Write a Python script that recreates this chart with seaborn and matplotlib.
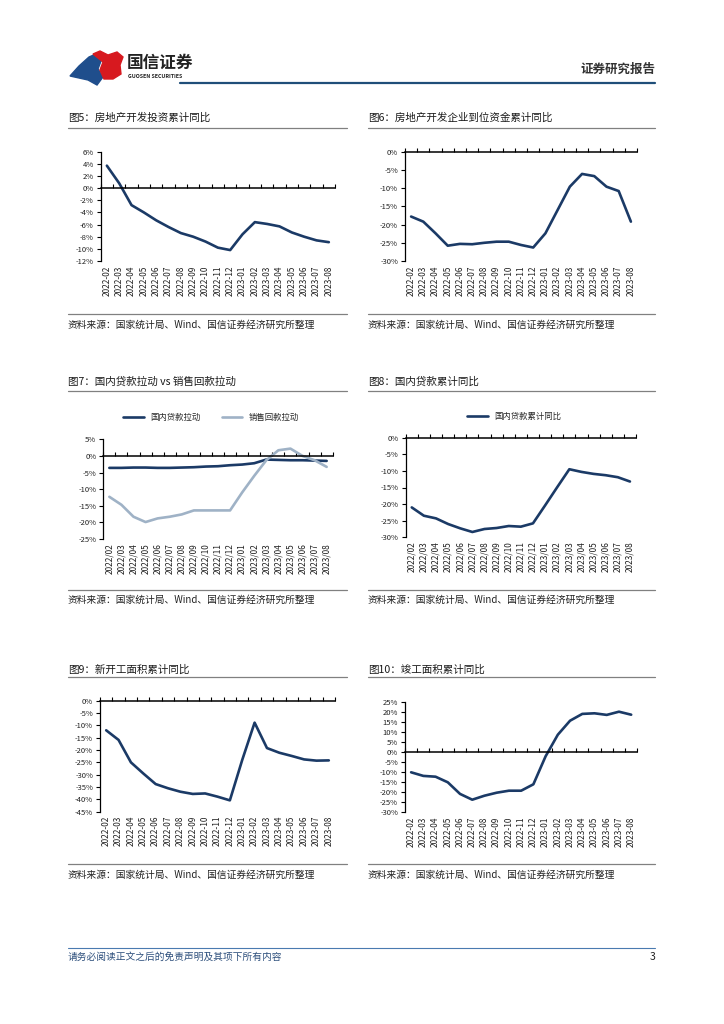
import matplotlib
matplotlib.use('Agg')
import matplotlib.pyplot as plt
import numpy as np
import pandas as pd
import seaborn as sns
from matplotlib.lines import Line2D
from matplotlib.patches import Polygon
from matplotlib.ticker import FuncFormatter

# ---- data ----
months = ['2022-02', '2022-03', '2022-04', '2022-05', '2022-06', '2022-07',
          '2022-08', '2022-09', '2022-10', '2022-11', '2022-12', '2023-01',
          '2023-02', '2023-03', '2023-04', '2023-05', '2023-06', '2023-07',
          '2023-08']
months_slash = [m.replace('-', '/') for m in months]

invest_yoy = [3.7, 0.8, -2.8, -4.0, -5.3, -6.4, -7.4, -8.0, -8.8, -9.8,
              -10.2, -7.6, -5.6, -5.9, -6.3, -7.3, -8.0, -8.6, -8.9]
funds_yoy = [-17.8, -19.2, -22.4, -25.8, -25.3, -25.4, -25.0, -24.7, -24.7,
             -25.6, -26.3, -22.4, -16.0, -9.6, -6.1, -6.7, -9.6, -10.8, -19.2]
loan_pull = [-3.6, -3.6, -3.5, -3.5, -3.6, -3.6, -3.5, -3.4, -3.2, -3.1,
             -2.8, -2.6, -2.2, -1.1, -1.2, -1.3, -1.3, -1.4, -1.5]
sales_pull = [-12.3, -14.7, -18.3, -19.9, -18.8, -18.3, -17.6, -16.4, -16.4,
              -16.4, -16.4, -11.0, -6.0, -1.3, 1.7, 2.2, 0.0, -1.3, -3.3]
loan_yoy = [-21.0, -23.5, -24.3, -26.0, -27.3, -28.4, -27.5, -27.2, -26.6,
            -26.8, -25.8, -20.4, -14.9, -9.5, -10.3, -10.9, -11.3, -11.9, -13.2]
newstart_yoy = [-12.0, -15.9, -25.0, -29.5, -33.8, -35.5, -36.9, -37.8, -37.6,
                -38.9, -40.4, -24.0, -8.9, -19.2, -21.1, -22.4, -23.8, -24.3,
                -24.2]
complete_yoy = [-10.0, -11.8, -12.2, -15.0, -20.8, -23.7, -21.7, -20.2, -19.2,
                -19.2, -16.0, -2.0, 8.8, 15.8, 19.2, 19.5, 18.7, 20.3, 18.8]

source = '资料来源：国家统计局、Wind、国信证券经济研究所整理'

NAVY = '#1b3a66'
LIGHT = '#9fb2c6'

sns.set_theme(style='white')
plt.rcParams['font.family'] = ['Noto Sans CJK SC', 'DejaVu Sans']
plt.rcParams['axes.unicode_minus'] = False

W, H = 724, 1024
fig = plt.figure(figsize=(W / 100, H / 100), dpi=100)
fig.patch.set_facecolor('white')


def fx(x):
    return x / W


def fy(y):
    return 1 - y / H


def hline(x0, x1, y, color, lw):
    fig.add_artist(Line2D([fx(x0), fx(x1)], [fy(y), fy(y)], color=color,
                          lw=lw, transform=fig.transFigure))


def text(x, y, s, **kw):
    fig.text(fx(x), fy(y), s, va='center', **kw)


def panel(x0, y0, x1, y1, labels, df, colors, ylim, step):
    ax = fig.add_axes([fx(x0), fy(y1), (x1 - x0) / W, (y1 - y0) / H])
    ax.patch.set_alpha(0)
    sns.lineplot(data=df, x='pos', y='value', hue='series', palette=colors,
                 lw=1.9, ax=ax)
    n = len(labels)
    ax.set_xlim(-0.5, n - 0.5)
    ax.set_ylim(*ylim)
    ax.set_xlabel('')
    ax.set_ylabel('')
    for s in ['top', 'right']:
        ax.spines[s].set_visible(False)
    ax.spines['bottom'].set_position(('data', 0))
    ax.spines['bottom'].set_color('black')
    ax.spines['bottom'].set_linewidth(1.1)
    ax.spines['left'].set_color('black')
    ax.spines['left'].set_linewidth(0.9)
    # category boundaries as small ticks on the zero line
    ax.set_xticks(np.arange(-0.5, n, 1))
    ax.tick_params(axis='x', bottom=True, direction='in', length=3,
                   width=0.8, color='black', labelbottom=False)
    ax.set_yticks(np.arange(ylim[0], ylim[1] + step / 2, step))
    ax.yaxis.set_major_formatter(FuncFormatter(lambda v, p: f'{v:.0f}%'))
    ax.tick_params(axis='y', left=True, direction='out', length=3, width=0.8,
                   color='black', labelsize=5.5, pad=2, labelcolor='#222222')
    sec = ax.secondary_xaxis(0)
    sec.set_xticks(range(n), labels=labels)
    sec.tick_params(bottom=False, length=0, labelsize=6, pad=3,
                    labelrotation=90, labelcolor='#222222')
    sec.spines['bottom'].set_visible(False)
    return ax


def one(vals, name):
    return pd.DataFrame({'pos': range(len(vals)), 'value': vals,
                         'series': name})


# ---- header ----
fig.add_artist(Polygon([(fx(70), fy(76)), (fx(79), fy(66)), (fx(89), fy(57)),
                        (fx(96), fy(54)), (fx(101), fy(61)), (fx(98), fy(69)),
                        (fx(103), fy(77)), (fx(97), fy(85)), (fx(88), fy(80))],
                       closed=True, color='#1f4e8c', transform=fig.transFigure))
fig.add_artist(Polygon([(fx(93), fy(54)), (fx(100), fy(51)), (fx(108), fy(55)),
                        (fx(117), fy(52)), (fx(123), fy(57)), (fx(120), fy(65)),
                        (fx(121), fy(74)), (fx(113), fy(79)), (fx(104), fy(79)),
                        (fx(100), fy(70)), (fx(103), fy(62))],
                       closed=True, color='#d7191f', transform=fig.transFigure))
text(127, 63, '国信证券', fontsize=12, fontweight='bold', color='#222222')
text(128, 77, 'GUOSEN SECURITIES', fontsize=3.8, fontweight='bold',
     color='#222222')
text(655, 69, '证券研究报告', fontsize=9, fontweight='bold', color='#333333',
     ha='right')
hline(180, 655, 83, '#1f4e79', 1.6)

# ---- panel titles / rules / sources ----
titles = [(68, 118, '图5：房地产开发投资累计同比'),
          (368, 118, '图6：房地产开发企业到位资金累计同比'),
          (68, 382, '图7：国内贷款拉动 vs 销售回款拉动'),
          (368, 382, '图8：国内贷款累计同比'),
          (68, 670, '图9：新开工面积累计同比'),
          (368, 670, '图10：竣工面积累计同比')]
for x, y, t in titles:
    text(x, y, t, fontsize=7.6, color='#1a1a1a')

for y_rule, y_src, y_title_rule in [(314, 325, 128), (590, 600, 391),
                                    (864, 875, 677)]:
    for x0, x1 in [(68, 347), (368, 655)]:
        hline(x0, x1, y_title_rule, '#808080', 0.9)
        hline(x0, x1, y_rule, '#808080', 0.9)
        text(x0, y_src, source, fontsize=7, color='#222222')

# ---- charts ----
panel(100.7, 151.7, 335, 261, months, one(invest_yoy, 'a'), [NAVY],
      (-12, 6), 2).get_legend().remove()
panel(405, 151.7, 637, 261, months, one(funds_yoy, 'a'), [NAVY],
      (-30, 0), 5).get_legend().remove()

pull = pd.concat([one(loan_pull, '国内贷款拉动'), one(sales_pull, '销售回款拉动')])
ax7 = panel(103.3, 439.3, 332.7, 539, months_slash, pull, [NAVY, LIGHT],
            (-25, 5), 5)
sns.move_legend(ax7, 'center', bbox_to_anchor=(0.47, 1.217), ncol=2,
                frameon=False, title=None, fontsize=6, handlelength=2.5,
                columnspacing=2.5)

ax8 = panel(405.7, 437.7, 636, 537.3, months_slash,
            one(loan_yoy, '国内贷款累计同比'), [NAVY], (-30, 0), 5)
sns.move_legend(ax8, 'center', bbox_to_anchor=(0.47, 1.211), ncol=1,
                frameon=False, title=None, fontsize=6, handlelength=2.5)

panel(100, 700.7, 335, 811.7, months, one(newstart_yoy, 'a'), [NAVY],
      (-45, 0), 5).get_legend().remove()
panel(405, 702.3, 637.3, 812.3, months, one(complete_yoy, 'a'), [NAVY],
      (-30, 25), 5).get_legend().remove()

# ---- footer ----
hline(68, 655, 948, '#4a7ab0', 0.8)
text(68, 957, '请务必阅读正文之后的免责声明及其项下所有内容', fontsize=7,
     color='#2d4f7c', style='italic')
text(655, 957, '3', fontsize=7.5, color='#222222', ha='right')

fig.savefig('out.png', dpi=100, facecolor='white')
